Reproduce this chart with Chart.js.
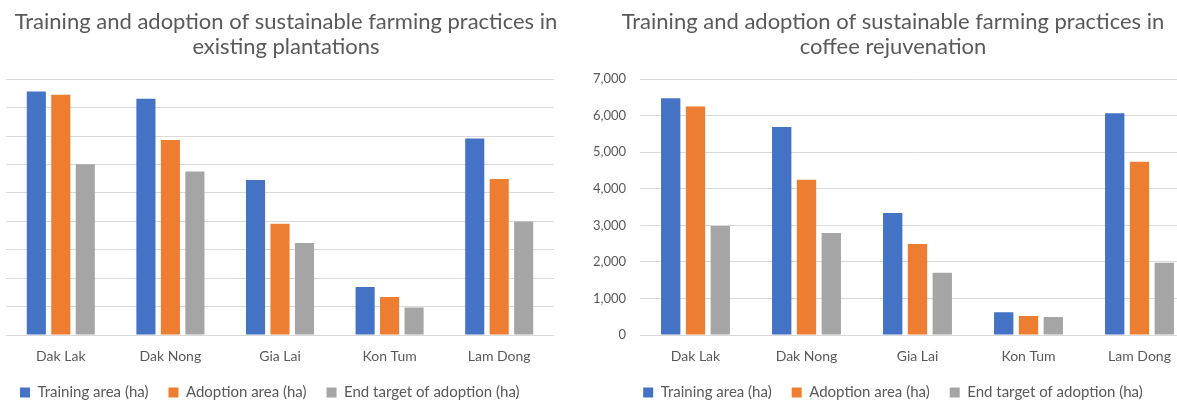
<!DOCTYPE html>
<html>
<head>
<meta charset="utf-8">
<script src="https://cdn.jsdelivr.net/npm/chart.js@4"></script>
<style>
  body { margin: 0; background: #fff; }
  #wrap { position: relative; width: 1177px; height: 402px; overflow: hidden; }
  #left { position: absolute; left: 0; top: 0; }
  #right { position: absolute; left: 580px; top: 0; }
</style>
</head>
<body>
<div id="wrap">
  <canvas id="left" width="572" height="413"></canvas>
  <canvas id="right" width="626" height="413"></canvas>
</div>
<script>
// provinces
const provinces = ['Dak Lak', 'Dak Nong', 'Gia Lai', 'Kon Tum', 'Lam Dong'];
const seriesNames = ['Training area (ha)', 'Adoption area (ha)', 'End target of adoption (ha)'];
const colors = ['#4472C4', '#ED7D31', '#A5A5A5'];

// existing plantations (no axis labels in the source, values estimated on a 0-9000 scale)
const existingTraining = [8570, 8310, 5450, 1690, 6910];
const existingAdoption = [8450, 6860, 3910, 1340, 5490];
const existingTarget = [6010, 5750, 3240, 970, 3990];

// coffee rejuvenation
const rejuvTraining = [6480, 5690, 3340, 620, 6070];
const rejuvAdoption = [6250, 4250, 2490, 520, 4740];
const rejuvTarget = [2980, 2790, 1700, 490, 1980];

const leftMax = 9000;
const rightMax = 7000;
const tickStep = 1000;

const textColor = '#595959';
const gridColor = '#d9d9d9';
const fontFamily = 'Lato, "Open Sans", sans-serif';

function makeDatasets(values) {
    return values.map((v, i) => ({
        label: seriesNames[i],
        data: v,
        backgroundColor: colors[i],
        borderWidth: 0,
        barPercentage: 0.78,
        categoryPercentage: 0.67
    }));
}

function makeChart(id, titleLines, values, max, showTicks, opts) {
    const ctx = document.getElementById(id).getContext('2d');
    return new Chart(ctx, {
        type: 'bar',
        data: {
            labels: provinces,
            datasets: makeDatasets(values)
        },
        options: {
            responsive: false,
            animation: false,
            devicePixelRatio: 1,
            layout: { padding: { left: 0, right: 0, top: 0, bottom: 3 } },
            plugins: {
                tooltip: { enabled: false },
                title: {
                    display: true,
                    text: titleLines,
                    color: textColor,
                    font: { family: fontFamily, size: 22, weight: 'normal', lineHeight: 1.14 },
                    padding: { top: 9, bottom: 20 }
                },
                legend: {
                    position: 'bottom',
                    align: opts.legendAlign,
                    labels: {
                        color: textColor,
                        font: { family: fontFamily, size: 15 },
                        boxWidth: 10,
                        boxHeight: 10,
                        padding: 20
                    }
                }
            },
            scales: {
                x: {
                    grid: { display: false, drawTicks: false },
                    border: { display: false },
                    ticks: { color: textColor, font: { family: fontFamily, size: 14 }, padding: 13 },
                    afterFit: s => { s.height = 30; }
                },
                y: {
                    min: 0,
                    max: max,
                    grid: { color: gridColor, drawTicks: false },
                    border: { display: false },
                    ticks: {
                        display: showTicks,
                        stepSize: tickStep,
                        color: textColor,
                        font: { family: fontFamily, size: 13 },
                        padding: 14,
                        callback: v => v.toLocaleString('en-US')
                    },
                    afterFit: s => { s.width = opts.yWidth; }
                },
                // empty spacer on the right so the title stays centred on the whole panel
                spacer: {
                    type: 'linear',
                    position: 'right',
                    grid: { display: false, drawTicks: false },
                    border: { display: false },
                    ticks: { display: false },
                    afterFit: s => { s.width = opts.rightGap; }
                }
            }
        }
    });
}

makeChart('left',
    ['Training and adoption of sustainable farming practices in', 'existing plantations'],
    [existingTraining, existingAdoption, existingTarget],
    leftMax, false,
    { yWidth: 6, rightGap: 18, legendAlign: 'start' });

makeChart('right',
    ['Training and adoption of sustainable farming practices in', 'coffee rejuvenation'],
    [rejuvTraining, rejuvAdoption, rejuvTarget],
    rightMax, true,
    { yWidth: 60, rightGap: 11, legendAlign: 'center' });
</script>
</body>
</html>
